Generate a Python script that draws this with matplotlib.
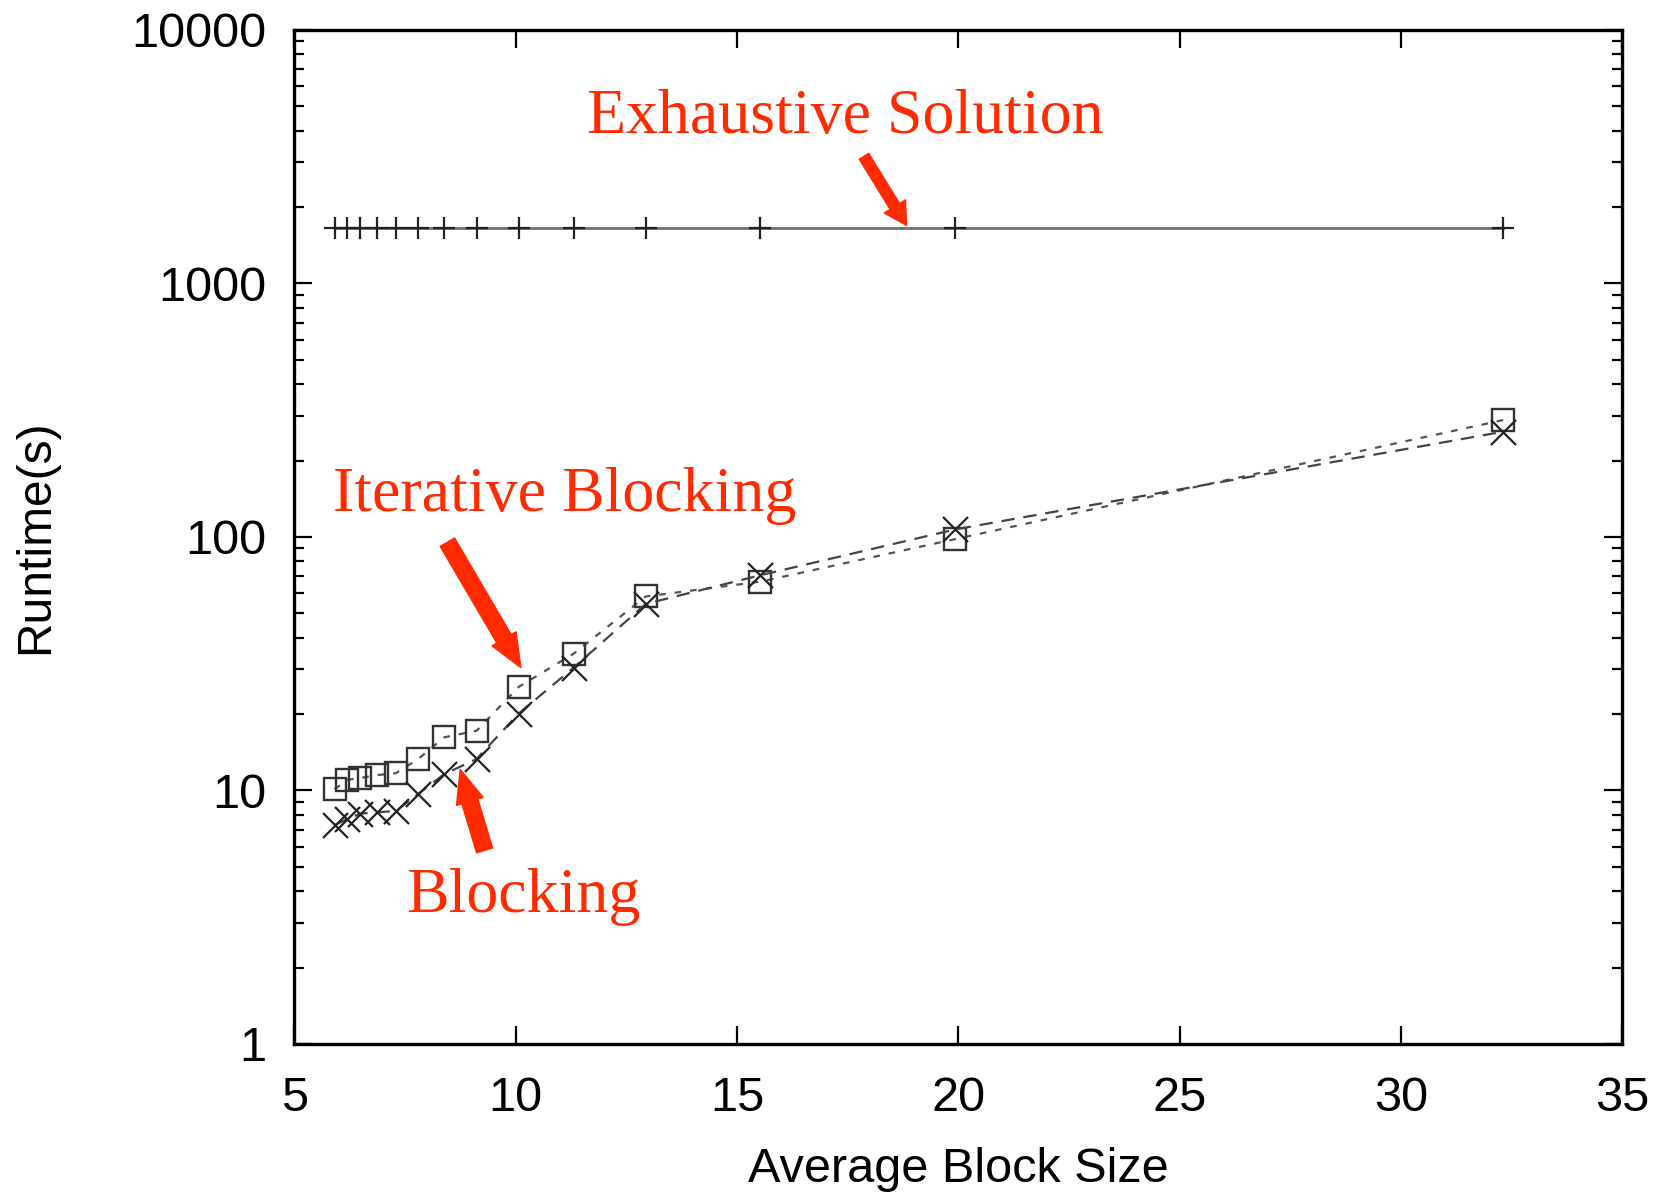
import matplotlib
matplotlib.use("Agg")
import matplotlib.pyplot as plt
from matplotlib.ticker import FixedLocator, FixedFormatter, LogLocator, NullFormatter

# ---- data ----
block_size = [5.91, 6.19, 6.49, 6.88, 7.30, 7.80, 8.39, 9.12, 10.07, 11.31, 12.94, 15.53, 19.93, 32.31]
exhaustive = [1660, 1660, 1660, 1660, 1660, 1660, 1660, 1660, 1660, 1660, 1660, 1660, 1660, 1660]
iterative_blocking = [10.1, 11.0, 11.2, 11.5, 11.7, 13.3, 16.2, 17.2, 25.6, 34.6, 58.2, 66.6, 98, 289]
blocking = [7.3, 7.7, 8.1, 8.2, 8.3, 9.7, 11.6, 13.3, 20.1, 30.5, 54.4, 70.6, 107, 260]

x_ticks = [5, 10, 15, 20, 25, 30, 35]
x_tick_labels = ["5", "10", "15", "20", "25", "30", "35"]
y_ticks = [1, 10, 100, 1000, 10000]
y_tick_labels = ["1", "10", "100", "1000", "10000"]

RED = "#ff2a00"

fig = plt.figure(figsize=(16.67, 11.96), dpi=100)
ax = fig.add_axes([0.1765, 0.1271, 0.7967, 0.848])

ax.plot(block_size, exhaustive, color="#707070", lw=2.0, marker="+", ms=16,
        mec="#222222", mew=1.6, zorder=3)
ax.plot(block_size, iterative_blocking, color="#555555", lw=1.6, ls=(0, (3, 4)),
        marker="s", ms=16, mfc="none", mec="#333333", mew=1.7, zorder=4)
ax.plot(block_size, blocking, color="#444444", lw=1.6, ls=(0, (6, 4)),
        marker="x", ms=18, mec="#222222", mew=1.6, zorder=4)

ax.set_yscale("log")
ax.set_xlim(5, 35)
ax.set_ylim(1, 10000)

ax.xaxis.set_major_locator(FixedLocator(x_ticks))
ax.xaxis.set_major_formatter(FixedFormatter(x_tick_labels))
ax.yaxis.set_major_locator(FixedLocator(y_ticks))
ax.yaxis.set_major_formatter(FixedFormatter(y_tick_labels))
ax.yaxis.set_minor_locator(LogLocator(base=10, subs=range(2, 10)))
ax.yaxis.set_minor_formatter(NullFormatter())

ax.tick_params(which="both", direction="in", top=True, right=True, width=1.6,
               colors="black")
ax.tick_params(which="major", length=13)
ax.tick_params(which="minor", length=7)
ax.tick_params(axis="x", which="major", pad=23, labelsize=35)
ax.tick_params(axis="y", which="major", pad=20, labelsize=35)
for lab in ax.get_xticklabels() + ax.get_yticklabels():
    lab.set_fontfamily("Liberation Sans")

for s in ax.spines.values():
    s.set_linewidth(2.4)

ax.set_xlabel("Average Block Size", fontsize=35, family="Liberation Sans", labelpad=19)
ax.set_ylabel("Runtime(s)", fontsize=34.5, family="Liberation Sans", labelpad=53)

# ---- annotations ----
tfont = dict(family="Liberation Serif", fontsize=46, color=RED)
ax.text(17.44, 3920, "Exhaustive Solution", ha="center", va="baseline", **tfont)
ax.text(11.10, 127, "Iterative Blocking", ha="center", va="baseline", **tfont)
ax.text(10.18, 3.31, "Blocking", ha="center", va="baseline", **tfont)

ax.annotate("", xy=(18.83, 1693), xytext=(17.87, 3170),
            arrowprops=dict(arrowstyle="simple,head_width=0.45,head_length=0.4,tail_width=0.2",
                            color=RED, shrinkA=0, shrinkB=0, mutation_scale=40), zorder=5)
ax.annotate("", xy=(10.12, 30.5), xytext=(8.46, 95.3),
            arrowprops=dict(arrowstyle="simple,head_width=0.5,head_length=0.6,tail_width=0.3",
                            color=RED, shrinkA=0, shrinkB=0, mutation_scale=40), zorder=5)
ax.annotate("", xy=(8.75, 12.1), xytext=(9.30, 5.8),
            arrowprops=dict(arrowstyle="simple,head_width=0.5,head_length=0.6,tail_width=0.3",
                            color=RED, shrinkA=0, shrinkB=0, mutation_scale=40), zorder=5)

fig.savefig("out.png", dpi=100)
